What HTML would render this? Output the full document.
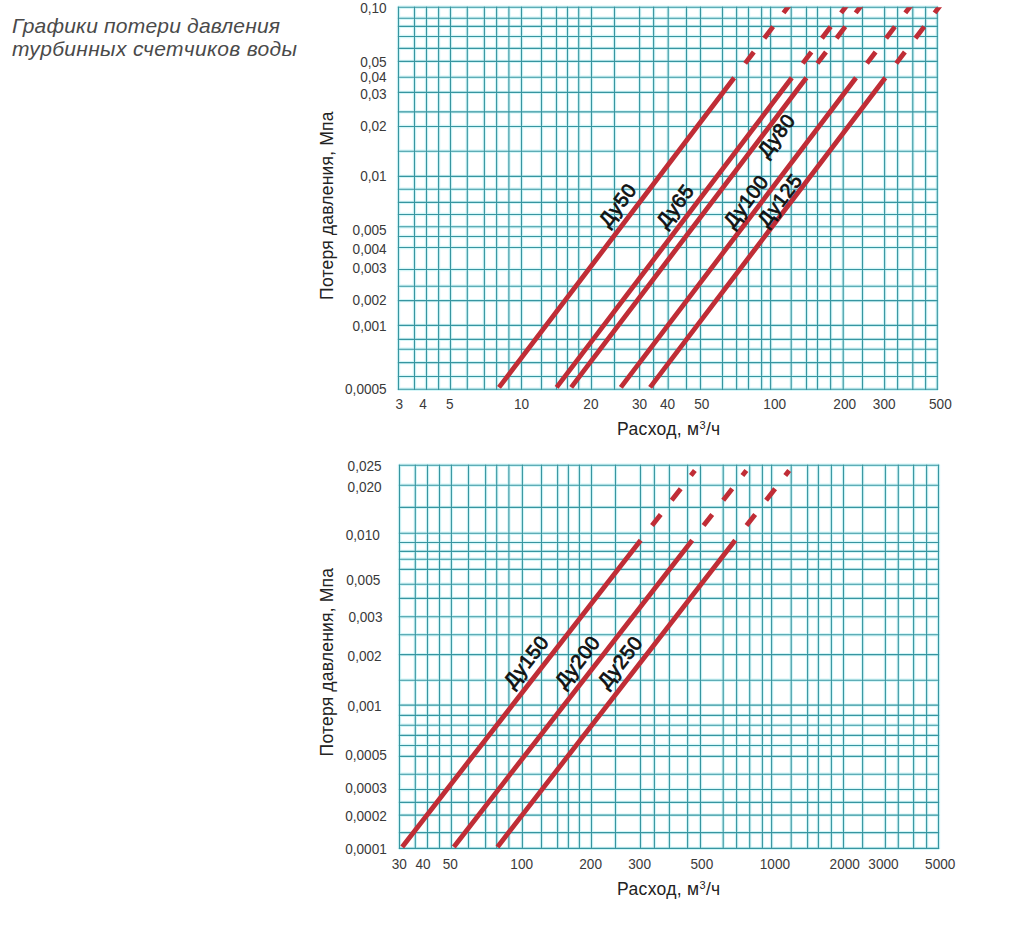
<!DOCTYPE html>
<html><head><meta charset="utf-8"><style>
html,body{margin:0;padding:0;background:#fff;}
body{width:1009px;height:926px;overflow:hidden;}
svg{display:block;font-family:"Liberation Sans",sans-serif;}
</style></head><body>
<svg width="1009" height="926" viewBox="0 0 1009 926">
<path d="M398.5 6.6V389.9M414.5 6.6V389.9M426.5 6.6V389.9M438.6 6.6V389.9M450.5 6.6V389.9M467.3 6.6V389.9M484.4 6.6V389.9M496.6 6.6V389.9M508.9 6.6V389.9M521.5 6.6V389.9M541.5 6.6V389.9M556.5 6.6V389.9M567.5 6.6V389.9M578.7 6.6V389.9M591.5 6.6V389.9M614.5 6.6V389.9M639.6 6.6V389.9M653.6 6.6V389.9M668.2 6.6V389.9M686.5 6.6V389.9M700.5 6.6V389.9M722.5 6.6V389.9M736.6 6.6V389.9M748.5 6.6V389.9M761.6 6.6V389.9M770.6 6.6V389.9M791.2 6.6V389.9M806.5 6.6V389.9M817.5 6.6V389.9M830.6 6.6V389.9M843.2 6.6V389.9M862.5 6.6V389.9M884.6 6.6V389.9M897.6 6.6V389.9M912.8 6.6V389.9M925.6 6.6V389.9M937.3 6.6V389.9M397.8 7.3H938M397.8 18.3H938M397.8 26.4H938M397.8 36.5H938M397.8 48.4H938M397.8 61.4H938M397.8 77.2H938M397.8 92.4H938M397.8 111.9H938M397.8 126.5H938M397.8 151.2H938M397.8 176.4H938M397.8 189.2H938M397.8 202.4H938M397.8 214.5H938M397.8 226.7H938M397.8 236.5H938M397.8 247.5H938M397.8 269.5H938M397.8 286.3H938M397.8 300.6H938M397.8 325.4H938M397.8 339.4H938M397.8 349.3H938M397.8 362.6H938M397.8 376.5H938M397.8 389.2H938" stroke="#d4f6f8" stroke-width="3.4" fill="none"/><path d="M398.5 6.6V389.9M414.5 6.6V389.9M426.5 6.6V389.9M438.6 6.6V389.9M450.5 6.6V389.9M467.3 6.6V389.9M484.4 6.6V389.9M496.6 6.6V389.9M508.9 6.6V389.9M521.5 6.6V389.9M541.5 6.6V389.9M556.5 6.6V389.9M567.5 6.6V389.9M578.7 6.6V389.9M591.5 6.6V389.9M614.5 6.6V389.9M639.6 6.6V389.9M653.6 6.6V389.9M668.2 6.6V389.9M686.5 6.6V389.9M700.5 6.6V389.9M722.5 6.6V389.9M736.6 6.6V389.9M748.5 6.6V389.9M761.6 6.6V389.9M770.6 6.6V389.9M791.2 6.6V389.9M806.5 6.6V389.9M817.5 6.6V389.9M830.6 6.6V389.9M843.2 6.6V389.9M862.5 6.6V389.9M884.6 6.6V389.9M897.6 6.6V389.9M912.8 6.6V389.9M925.6 6.6V389.9M937.3 6.6V389.9M397.8 7.3H938M397.8 18.3H938M397.8 26.4H938M397.8 36.5H938M397.8 48.4H938M397.8 61.4H938M397.8 77.2H938M397.8 92.4H938M397.8 111.9H938M397.8 126.5H938M397.8 151.2H938M397.8 176.4H938M397.8 189.2H938M397.8 202.4H938M397.8 214.5H938M397.8 226.7H938M397.8 236.5H938M397.8 247.5H938M397.8 269.5H938M397.8 286.3H938M397.8 300.6H938M397.8 325.4H938M397.8 339.4H938M397.8 349.3H938M397.8 362.6H938M397.8 376.5H938M397.8 389.2H938" stroke="#3795a0" stroke-width="1.12" fill="none"/>
<path d="M399.5 464.6V849.1M415.3 464.6V849.1M427.5 464.6V849.1M439.5 464.6V849.1M451.4 464.6V849.1M468.5 464.6V849.1M485.6 464.6V849.1M496.7 464.6V849.1M508.9 464.6V849.1M522.4 464.6V849.1M541.5 464.6V849.1M557.6 464.6V849.1M568.4 464.6V849.1M579.4 464.6V849.1M591.5 464.6V849.1M615.5 464.6V849.1M640.5 464.6V849.1M654.4 464.6V849.1M669.4 464.6V849.1M687.6 464.6V849.1M700.5 464.6V849.1M723.2 464.6V849.1M736.6 464.6V849.1M749.7 464.6V849.1M762.4 464.6V849.1M771.6 464.6V849.1M791.2 464.6V849.1M807.6 464.6V849.1M818.4 464.6V849.1M831.4 464.6V849.1M843.5 464.6V849.1M862.6 464.6V849.1M885.4 464.6V849.1M898.3 464.6V849.1M913.6 464.6V849.1M926.6 464.6V849.1M938.5 464.6V849.1M398.8 465.3H939.2M398.8 485.2H939.2M398.8 507.4H939.2M398.8 533.3H939.2M398.8 542.5H939.2M398.8 551.4H939.2M398.8 559.3H939.2M398.8 569.4H939.2M398.8 584.3H939.2M398.8 598.4H939.2M398.8 616.7H939.2M398.8 634.7H939.2M398.8 654.6H939.2M398.8 680.3H939.2M398.8 705.1H939.2M398.8 715.4H939.2M398.8 725.2H939.2M398.8 735.4H939.2M398.8 745.5H939.2M398.8 756.35H939.2M398.8 774.3H939.2M398.8 789.5H939.2M398.8 802.4H939.2M398.8 815.1H939.2M398.8 832.6H939.2M398.8 848.4H939.2" stroke="#d4f6f8" stroke-width="3.4" fill="none"/><path d="M399.5 464.6V849.1M415.3 464.6V849.1M427.5 464.6V849.1M439.5 464.6V849.1M451.4 464.6V849.1M468.5 464.6V849.1M485.6 464.6V849.1M496.7 464.6V849.1M508.9 464.6V849.1M522.4 464.6V849.1M541.5 464.6V849.1M557.6 464.6V849.1M568.4 464.6V849.1M579.4 464.6V849.1M591.5 464.6V849.1M615.5 464.6V849.1M640.5 464.6V849.1M654.4 464.6V849.1M669.4 464.6V849.1M687.6 464.6V849.1M700.5 464.6V849.1M723.2 464.6V849.1M736.6 464.6V849.1M749.7 464.6V849.1M762.4 464.6V849.1M771.6 464.6V849.1M791.2 464.6V849.1M807.6 464.6V849.1M818.4 464.6V849.1M831.4 464.6V849.1M843.5 464.6V849.1M862.6 464.6V849.1M885.4 464.6V849.1M898.3 464.6V849.1M913.6 464.6V849.1M926.6 464.6V849.1M938.5 464.6V849.1M398.8 465.3H939.2M398.8 485.2H939.2M398.8 507.4H939.2M398.8 533.3H939.2M398.8 542.5H939.2M398.8 551.4H939.2M398.8 559.3H939.2M398.8 569.4H939.2M398.8 584.3H939.2M398.8 598.4H939.2M398.8 616.7H939.2M398.8 634.7H939.2M398.8 654.6H939.2M398.8 680.3H939.2M398.8 705.1H939.2M398.8 715.4H939.2M398.8 725.2H939.2M398.8 735.4H939.2M398.8 745.5H939.2M398.8 756.35H939.2M398.8 774.3H939.2M398.8 789.5H939.2M398.8 802.4H939.2M398.8 815.1H939.2M398.8 832.6H939.2M398.8 848.4H939.2" stroke="#3795a0" stroke-width="1.12" fill="none"/>
<clipPath id="ct"><rect x="390" y="7.3" width="560" height="390"/></clipPath>
<g clip-path="url(#ct)"><path d="M499 387.4L734.2 77.8M745.14 63.4L753.8 52M764.29 38.2L773.1 26.6M783.51 12.9L791.03 3M556.6 387.4L791.8 77.8M802.74 63.4L811.4 52M821.89 38.2L830.7 26.6M841.11 12.9L848.63 3M571.2 387.4L806.4 77.8M817.34 63.4L826 52M836.49 38.2L845.3 26.6M855.71 12.9L863.23 3M620.8 387.4L856 77.8M866.94 63.4L875.6 52M886.09 38.2L894.9 26.6M905.31 12.9L912.83 3M650.1 387.4L885.3 77.8M896.24 63.4L904.9 52M915.39 38.2L924.2 26.6M934.61 12.9L942.13 3" stroke="#c02d36" stroke-width="4.85" stroke-linecap="butt" fill="none"/></g>
<path d="M402.2 846.9L640.66 540.2M652.01 525.6L660.72 514.4M671.68 500.3L680.7 488.7M690.89 475.6L694.85 470.5M453.8 846.9L692.2 540.2M703.55 525.6L712.25 514.4M723.21 500.3L732.23 488.7M742.41 475.6L746.38 470.5M497.5 846.9L735.19 540.2M746.51 525.6L755.19 514.4M766.12 500.3L775.11 488.7M785.26 475.6L789.21 470.5" stroke="#c02d36" stroke-width="4.85" stroke-linecap="butt" fill="none"/>
<text transform="translate(386.7 12.87) scale(0.92 1)" font-size="14.8" fill="#3a3a3a" text-anchor="end">0,10</text>
<text transform="translate(386.7 66.87) scale(0.92 1)" font-size="14.8" fill="#3a3a3a" text-anchor="end">0,05</text>
<text transform="translate(386.7 82.37) scale(0.92 1)" font-size="14.8" fill="#3a3a3a" text-anchor="end">0,04</text>
<text transform="translate(386.7 98.97) scale(0.92 1)" font-size="14.8" fill="#3a3a3a" text-anchor="end">0,03</text>
<text transform="translate(386.7 131.17) scale(0.92 1)" font-size="14.8" fill="#3a3a3a" text-anchor="end">0,02</text>
<text transform="translate(386.7 181.37) scale(0.92 1)" font-size="14.8" fill="#3a3a3a" text-anchor="end">0,01</text>
<text transform="translate(386.7 235.37) scale(0.92 1)" font-size="14.8" fill="#3a3a3a" text-anchor="end">0,005</text>
<text transform="translate(386.7 254.47) scale(0.92 1)" font-size="14.8" fill="#3a3a3a" text-anchor="end">0,004</text>
<text transform="translate(386.7 272.87) scale(0.92 1)" font-size="14.8" fill="#3a3a3a" text-anchor="end">0,003</text>
<text transform="translate(386.7 305.47) scale(0.92 1)" font-size="14.8" fill="#3a3a3a" text-anchor="end">0,002</text>
<text transform="translate(386.7 330.57) scale(0.92 1)" font-size="14.8" fill="#3a3a3a" text-anchor="end">0,001</text>
<text transform="translate(386.7 393.97) scale(0.92 1)" font-size="14.8" fill="#3a3a3a" text-anchor="end">0,0005</text>
<text transform="translate(381.7 471.37) scale(0.92 1)" font-size="14.8" fill="#3a3a3a" text-anchor="end">0,025</text>
<text transform="translate(381.7 492.37) scale(0.92 1)" font-size="14.8" fill="#3a3a3a" text-anchor="end">0,020</text>
<text transform="translate(379.8 539.77) scale(0.92 1)" font-size="14.8" fill="#3a3a3a" text-anchor="end">0,010</text>
<text transform="translate(380.3 585.47) scale(0.92 1)" font-size="14.8" fill="#3a3a3a" text-anchor="end">0,005</text>
<text transform="translate(382.5 621.87) scale(0.92 1)" font-size="14.8" fill="#3a3a3a" text-anchor="end">0,003</text>
<text transform="translate(381.7 660.77) scale(0.92 1)" font-size="14.8" fill="#3a3a3a" text-anchor="end">0,002</text>
<text transform="translate(381.7 711.27) scale(0.92 1)" font-size="14.8" fill="#3a3a3a" text-anchor="end">0,001</text>
<text transform="translate(386.8 759.87) scale(0.92 1)" font-size="14.8" fill="#3a3a3a" text-anchor="end">0,0005</text>
<text transform="translate(386.8 792.67) scale(0.92 1)" font-size="14.8" fill="#3a3a3a" text-anchor="end">0,0003</text>
<text transform="translate(386.8 820.57) scale(0.92 1)" font-size="14.8" fill="#3a3a3a" text-anchor="end">0,0002</text>
<text transform="translate(386.8 853.77) scale(0.92 1)" font-size="14.8" fill="#3a3a3a" text-anchor="end">0,0001</text>
<text transform="translate(399.3 409) scale(0.92 1)" font-size="14.8" fill="#3a3a3a" text-anchor="middle">3</text>
<text transform="translate(423.1 409) scale(0.92 1)" font-size="14.8" fill="#3a3a3a" text-anchor="middle">4</text>
<text transform="translate(449.8 409) scale(0.92 1)" font-size="14.8" fill="#3a3a3a" text-anchor="middle">5</text>
<text transform="translate(521.5 409) scale(0.92 1)" font-size="14.8" fill="#3a3a3a" text-anchor="middle">10</text>
<text transform="translate(590.9 409) scale(0.92 1)" font-size="14.8" fill="#3a3a3a" text-anchor="middle">20</text>
<text transform="translate(639.6 409) scale(0.92 1)" font-size="14.8" fill="#3a3a3a" text-anchor="middle">30</text>
<text transform="translate(667.5 409) scale(0.92 1)" font-size="14.8" fill="#3a3a3a" text-anchor="middle">40</text>
<text transform="translate(701.8 409) scale(0.92 1)" font-size="14.8" fill="#3a3a3a" text-anchor="middle">50</text>
<text transform="translate(774.7 409) scale(0.92 1)" font-size="14.8" fill="#3a3a3a" text-anchor="middle">100</text>
<text transform="translate(844.7 409) scale(0.92 1)" font-size="14.8" fill="#3a3a3a" text-anchor="middle">200</text>
<text transform="translate(884.2 409) scale(0.92 1)" font-size="14.8" fill="#3a3a3a" text-anchor="middle">300</text>
<text transform="translate(940.4 409) scale(0.92 1)" font-size="14.8" fill="#3a3a3a" text-anchor="middle">500</text>
<text transform="translate(399.3 868.9) scale(0.92 1)" font-size="14.8" fill="#3a3a3a" text-anchor="middle">30</text>
<text transform="translate(423.1 868.9) scale(0.92 1)" font-size="14.8" fill="#3a3a3a" text-anchor="middle">40</text>
<text transform="translate(450.2 868.9) scale(0.92 1)" font-size="14.8" fill="#3a3a3a" text-anchor="middle">50</text>
<text transform="translate(521.7 868.9) scale(0.92 1)" font-size="14.8" fill="#3a3a3a" text-anchor="middle">100</text>
<text transform="translate(590.6 868.9) scale(0.92 1)" font-size="14.8" fill="#3a3a3a" text-anchor="middle">200</text>
<text transform="translate(639.6 868.9) scale(0.92 1)" font-size="14.8" fill="#3a3a3a" text-anchor="middle">300</text>
<text transform="translate(701.9 868.9) scale(0.92 1)" font-size="14.8" fill="#3a3a3a" text-anchor="middle">500</text>
<text transform="translate(774.9 868.9) scale(0.92 1)" font-size="14.8" fill="#3a3a3a" text-anchor="middle">1000</text>
<text transform="translate(844.7 868.9) scale(0.92 1)" font-size="14.8" fill="#3a3a3a" text-anchor="middle">2000</text>
<text transform="translate(883.5 868.9) scale(0.92 1)" font-size="14.8" fill="#3a3a3a" text-anchor="middle">3000</text>
<text transform="translate(940.2 868.9) scale(0.92 1)" font-size="14.8" fill="#3a3a3a" text-anchor="middle">5000</text>
<text x="668.8" y="435" font-size="17.5" fill="#222" text-anchor="middle" letter-spacing="0.32">Расход, м<tspan font-size="11" dy="-6">3</tspan><tspan dy="6">/ч</tspan></text>
<text x="668.8" y="895" font-size="17.5" fill="#222" text-anchor="middle" letter-spacing="0.32">Расход, м<tspan font-size="11" dy="-6">3</tspan><tspan dy="6">/ч</tspan></text>
<text transform="translate(333.3 205.6) rotate(-90)" font-size="17.5" fill="#222" text-anchor="middle" letter-spacing="0.2">Потеря давления, Мпа</text>
<text transform="translate(333.3 662.1) rotate(-90)" font-size="17.5" fill="#222" text-anchor="middle" letter-spacing="0.2">Потеря давления, Мпа</text>
<text transform="translate(608.45 228.29) rotate(-52.78)" font-size="20" fill="#111" stroke="#111" stroke-width="0.75" letter-spacing="0.45">Ду50</text>
<text transform="translate(665.9 229.31) rotate(-52.78)" font-size="20" fill="#111" stroke="#111" stroke-width="0.75" letter-spacing="0.45">Ду65</text>
<text transform="translate(767.28 158.73) rotate(-52.78)" font-size="20" fill="#111" stroke="#111" stroke-width="0.75" letter-spacing="0.45">Ду80</text>
<text transform="translate(733.33 229.19) rotate(-52.78)" font-size="20" fill="#111" stroke="#111" stroke-width="0.75" letter-spacing="0.45">Ду100</text>
<text transform="translate(767.21 227.96) rotate(-52.78)" font-size="20" fill="#111" stroke="#111" stroke-width="0.75" letter-spacing="0.45">Ду125</text>
<text transform="translate(513.22 689.51) rotate(-52.15)" font-size="20" fill="#111" stroke="#111" stroke-width="0.75" letter-spacing="0.45">Ду150</text>
<text transform="translate(564.62 689.61) rotate(-52.15)" font-size="20" fill="#111" stroke="#111" stroke-width="0.75" letter-spacing="0.45">Ду200</text>
<text transform="translate(607.14 689.83) rotate(-52.15)" font-size="20" fill="#111" stroke="#111" stroke-width="0.75" letter-spacing="0.45">Ду250</text>
<text x="12" y="32.8" font-size="21" font-style="italic" fill="#4a4a4a" letter-spacing="0.2">Графики потери давления</text><text x="12" y="55.7" font-size="21" font-style="italic" fill="#4a4a4a" letter-spacing="0.33">турбинных счетчиков воды</text>
</svg>
</body></html>
